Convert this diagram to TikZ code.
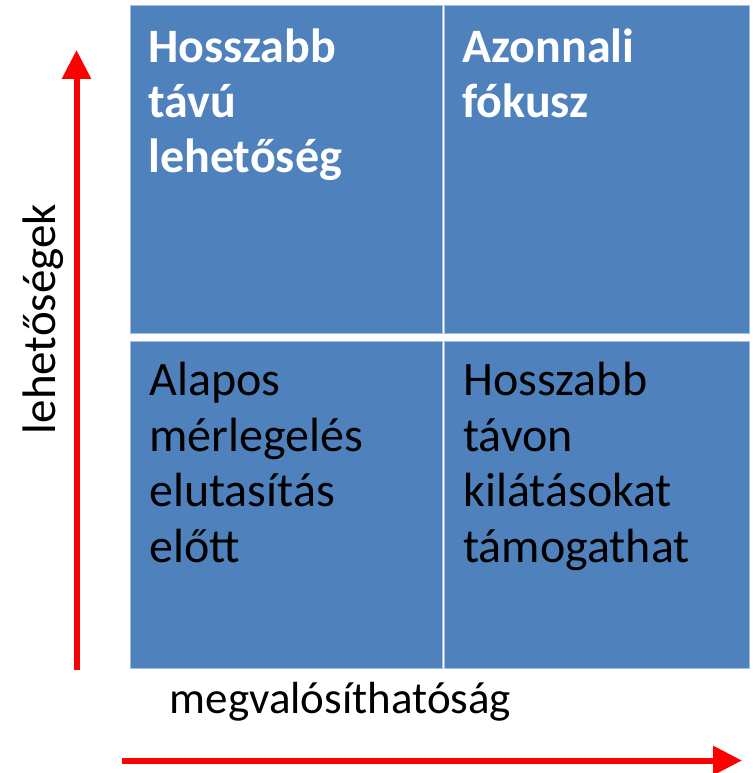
\documentclass[tikz,border=0pt]{standalone}
\usepackage{fontspec}
\setmainfont{Carlito}
\usetikzlibrary{positioning,arrows.meta}

\definecolor{quadblue}{RGB}{79,129,189}
\definecolor{quadedge}{RGB}{165,190,222}
\definecolor{axisred}{RGB}{255,0,0}

\tikzset{every picture/.style={line width=0.75pt}}

\begin{document}
\begin{tikzpicture}[x=1pt, y=-1pt,
                    quad/.style={fill=quadblue, draw=quadedge, inner sep=0pt, anchor=north west},
                    quadhead/.style={font=\fontsize{48}{55}\selectfont\bfseries, text=white,
                                     text width=285pt, align=left, inner sep=0pt},
                    quadbody/.style={font=\fontsize{48}{55.5}\selectfont, text=black,
                                     text width=285pt, align=left, inner sep=0pt},
                    axislabel/.style={font=\fontsize{45}{52}\selectfont, inner sep=0pt},
                    axis/.style={axisred, line width=6pt, -{Triangle[length=29pt,width=28pt]}}]
  \useasboundingbox (0,0) rectangle (752,773);

  \def\qwl{312}
  \def\qwr{305}
  \def\qht{328}
  \def\qhb{327}

  % quadrants
  \node[quad, minimum width=\qwl, minimum height=\qht] (tl) at (130,5) {};
  \node[quad, minimum width=\qwr, minimum height=\qht] (tr) at (444,5) {};
  \node[quad, minimum width=\qwl, minimum height=\qhb] (bl) at (130,341) {};
  \node[quad, minimum width=\qwr, minimum height=\qhb] (br) at (444,341) {};

  % quadrant texts
  \node[quadhead, below right=23pt and 18pt of tl.north west] (tltext) {Hosszabb\\távú\\lehetőség};
  \node[quadhead, below right=23pt and 18pt of tr.north west] (trtext) {Azonnali\\fókusz};
  \node[quadbody, below right=21pt and 19pt of bl.north west] (bltext) {Alapos\\mérlegelés\\elutasítás\\előtt};
  \node[quadbody, below right=21pt and 19pt of br.north west] (brtext) {Hosszabb\\távon\\kilátásokat\\támogathat};

  % axes
  \coordinate (vlow) at (76.5,670);
  \coordinate (vhigh) at (76.5,50);
  \coordinate (hleft) at (122,760.5);
  \coordinate (hright) at (742,760.5);
  \draw[axis] (vlow) -- (vhigh);
  \draw[axis] (hleft) -- (hright);

  % axis labels
  \node[axislabel, font=\fontsize{47}{52}\selectfont, rotate=90] (ylab) at (43,319) {lehetőségek};
  \node[axislabel, anchor=base] (xlab) at (340.5,713) {megvalósíthatóság};

\end{tikzpicture}
\end{document}
